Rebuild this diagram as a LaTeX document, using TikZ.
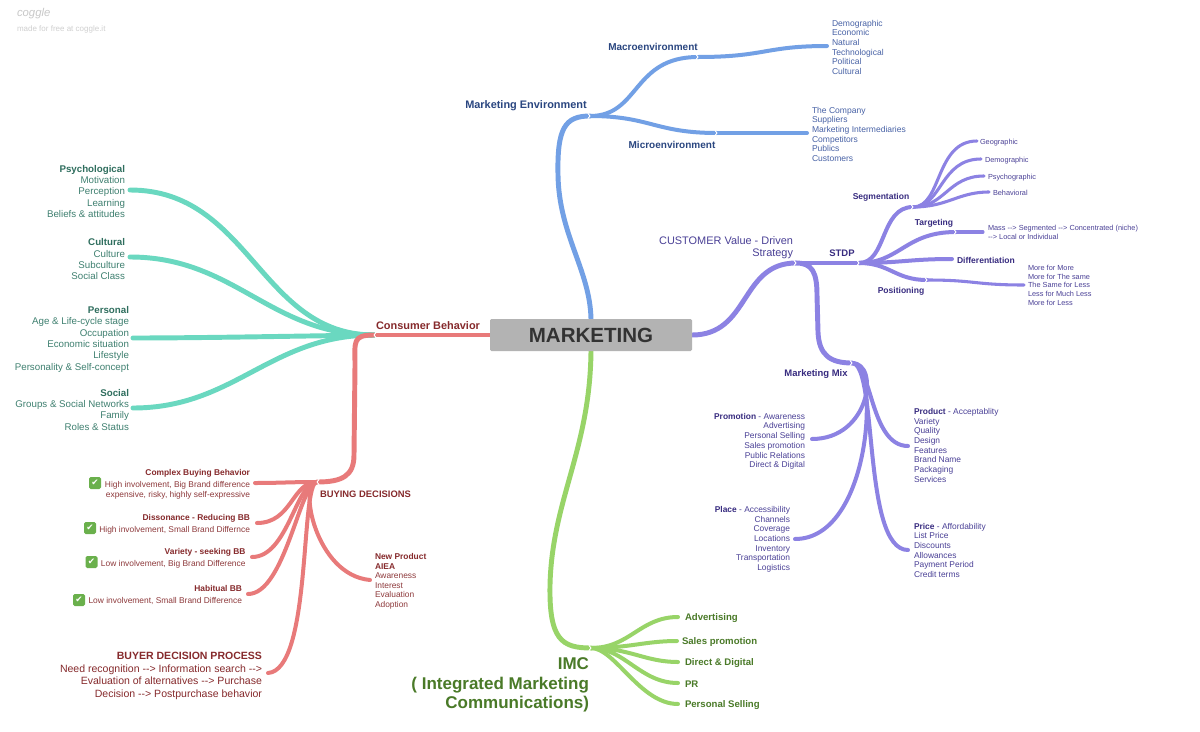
\documentclass[tikz,border=0pt]{standalone}
\usepackage{fontspec}
\setmainfont{Liberation Sans}
\newfontfamily\djv{DejaVu Sans}
\usetikzlibrary{calc}
\definecolor{bline}{HTML}{72A0E5}
\definecolor{btxt}{HTML}{2A4680}
\definecolor{blist}{HTML}{4862A6}
\definecolor{pline}{HTML}{8C82E3}
\definecolor{ptxt}{HTML}{382C80}
\definecolor{plist}{HTML}{4A4096}
\definecolor{tline}{HTML}{6AD8C0}
\definecolor{ttxt}{HTML}{2F6E5E}
\definecolor{tlist}{HTML}{3F8070}
\definecolor{rline}{HTML}{E87A7A}
\definecolor{rtxt}{HTML}{862A2C}
\definecolor{rlist}{HTML}{8E3A3C}
\definecolor{gline}{HTML}{98D468}
\definecolor{gtxt}{HTML}{4A7A28}
\definecolor{boxg}{HTML}{B3B3B3}
\definecolor{boxt}{HTML}{333333}
\definecolor{ckg}{HTML}{6AB04C}
\definecolor{wm}{HTML}{C8C8C8}
\newcommand\fz[2]{\fontsize{#1pt}{#2pt}\selectfont}
\pgfdeclarelayer{bg}
\pgfsetlayers{bg,main}
\begin{document}
\begin{tikzpicture}[x=0.75pt,y=-0.75pt,
  every node/.style={inner sep=0pt,outer sep=0pt},
  tx/.style={yshift=-1pt},
  con/.style={line cap=round,line join=round},
  w5/.style={con,line width=3.7pt},
  w4/.style={con,line width=3.0pt},
  w3/.style={con,line width=2.3pt},
  chev/.style={draw=white,line width=0.7pt,line cap=round,line join=round},
  blab/.style={tx,font=\fz{7.5}{8}\bfseries,text=btxt},
  blst/.style={tx,font=\fz{6.4}{7.3},text=blist,align=left,anchor=west},
  plab/.style={tx,font=\fz{6.4}{7}\bfseries,text=ptxt},
  psml/.style={tx,font=\fz{5.5}{6.4},text=plist,align=left,anchor=west},
  pmixl/.style={tx,font=\fz{6.3}{7.3},text=plist,align=left,anchor=west},
  pmixr/.style={tx,font=\fz{6.3}{7.3},text=plist,align=right,anchor=east},
  tblk/.style={tx,font=\fz{7.3}{8.5},text=tlist,align=right,anchor=east},
  rblk/.style={tx,font=\fz{6.3}{7.5},text=rlist,align=right,anchor=east},
  glab/.style={tx,font=\fz{7.2}{8}\bfseries,text=gtxt,anchor=west},
  chk/.style={fill=ckg,rounded corners=1.2pt,minimum size=9pt,text=white,font=\djv\fz{6.5}{6.5}\bfseries}
]
\useasboundingbox (0,0) rectangle (1200,732);

% watermark
\node[font=\fz{8.5}{8.5}\itshape,text=wm,anchor=west] (wm1) at (17,14) {coggle};
\node[font=\fz{6}{6},text=wm!85,anchor=west] (wm2) at (17,29) {made for free at coggle.it};

% centre
\node[fill=boxg,rounded corners=1pt,minimum width=151.5pt,minimum height=24pt,
      font=\fz{15.4}{16}\bfseries,text=boxt] (mk) at (591,335) {MARKETING};

% ---------- blue ----------
\coordinate (me) at (590,116);
\coordinate (mac) at (698,57);
\coordinate (macE) at (827,46);
\coordinate (mic) at (717,133);
\coordinate (micE) at (807,133);
\node[tx,font=\fz{8.2}{9}\bfseries,text=btxt] (meL) at (526,104) {Marketing Environment};
\node[blab] (macL) at (653,46) {Macroenvironment};
\node[blab] (micL) at (672,144) {Microenvironment};
\node[blst] (macT) at (832,46) {Demographic\\Economic\\Natural\\Technological\\Political\\Cultural};
\node[blst] (micT) at (812,133) {The Company\\Suppliers\\Marketing Intermediaries\\Competitors\\Publics\\Customers};

% ---------- purple ----------
\coordinate (cv) at (796,263);
\coordinate (stdp) at (859,263);
\coordinate (seg) at (913,207);
\coordinate (geo) at (977,141);
\coordinate (dem) at (981,159);
\coordinate (psy) at (984,176);
\coordinate (beh) at (989,192);
\coordinate (tar) at (956,232);
\coordinate (tarE) at (983,232);
\coordinate (dif) at (952,259);
\coordinate (pos) at (927,280);
\coordinate (posE) at (1024,285);
\coordinate (mix) at (852,363);
\coordinate (prod) at (908,446);
\coordinate (promo) at (812,439);
\coordinate (place) at (795,539);
\coordinate (price) at (908,550);
\node[tx,font=\fz{8.2}{9},text=plist,align=right,anchor=east] (cvL) at (793,246) {CUSTOMER Value - Driven\\Strategy};
\node[tx,font=\fz{7.1}{8}\bfseries,text=ptxt] (stdpL) at (842,252) {STDP};
\node[plab] (segL) at (881,196) {Segmentation};
\node[plab] (tarL) at (934,222) {Targeting};
\node[plab,anchor=west] (difL) at (957,259) {Differentiation};
\node[plab] (posL) at (901,290) {Positioning};
\node[psml] (geoL) at (980,141) {Geographic};
\node[psml] (demL) at (985,159) {Demographic};
\node[psml] (psyL) at (988,176) {Psychographic};
\node[psml] (behL) at (993,192) {Behavioral};
\node[tx,font=\fz{5.5}{6.75},text=plist,align=left,anchor=west] (tarT) at (988,231.5) {Mass -{}-> Segmented -{}-> Concentrated (niche)\\-{}-> Local or Individual};
\node[psml] (posT) at (1028,284) {More for More\\More for The same\\The Same for Less\\Less for Much Less\\More for Less};
\node[tx,font=\fz{7.1}{8}\bfseries,text=ptxt] (mixL) at (816,373) {Marketing Mix};
\node[pmixr] (promT) at (805,440) {{\bfseries\color{ptxt}Promotion} - Awareness\\Advertising\\Personal Selling\\Sales promotion\\Public Relations\\Direct \& Digital};
\node[pmixl] (prodT) at (914,444) {{\bfseries\color{ptxt}Product} - Acceptablity\\Variety\\Quality\\Design\\Features\\Brand Name\\Packaging\\Services};
\node[pmixr] (placT) at (790,538) {{\bfseries\color{ptxt}Place} - Accessibility\\Channels\\Coverage\\Locations\\Inventory\\Transportation\\Logistics};
\node[pmixl] (pricT) at (914,549) {{\bfseries\color{ptxt}Price} - Affordability\\List Price\\Discounts\\Allowances\\Payment Period\\Credit terms};

% ---------- teal ----------
\coordinate (cb) at (374,335);
\coordinate (psyc) at (130,190);
\coordinate (cult) at (130,257);
\coordinate (pers) at (133,338);
\coordinate (soc) at (133,408);
\node[tblk] (psT) at (125,190) {{\bfseries\color{ttxt}Psychological}\\Motivation\\Perception\\Learning\\Beliefs \& attitudes};
\node[tblk] (cuT) at (125,258) {{\bfseries\color{ttxt}Cultural}\\Culture\\Subculture\\Social Class};
\node[tblk] (peT) at (129,338) {{\bfseries\color{ttxt}Personal}\\Age \& Life-cycle stage\\Occupation\\Economic situation\\Lifestyle\\Personality \& Self-concept};
\node[tblk] (soT) at (129,408.5) {{\bfseries\color{ttxt}Social}\\Groups \& Social Networks\\Family\\Roles \& Status};

% ---------- red ----------
\coordinate (bd) at (317,482);
\coordinate (cplx) at (255,483);
\coordinate (diss) at (257,523);
\coordinate (vari) at (252,557);
\coordinate (habi) at (248,594);
\coordinate (newp) at (370,580);
\coordinate (bdp) at (268,673);
\node[tx,font=\fz{8.2}{9}\bfseries,text=rtxt] (cbL) at (428,324) {Consumer Behavior};
\node[tx,font=\fz{7.05}{8}\bfseries,text=rtxt,anchor=west] (bdL) at (320,493) {BUYING DECISIONS};
\node[rblk] (cplxT) at (250,483) {{\bfseries\color{rtxt}Complex Buying Behavior}\\[1.5pt]High involvement, Big Brand difference\\expensive, risky, highly self-expressive};
\node[rblk] (dissT) at (250,523) {{\bfseries\color{rtxt}Dissonance - Reducing BB}\\[1.5pt]High involvement, Small Brand Differnce};
\node[rblk] (variT) at (245.5,557) {{\bfseries\color{rtxt}Variety - seeking BB}\\[1.5pt]Low involvement, Big Brand Difference};
\node[rblk] (habiT) at (242,594) {{\bfseries\color{rtxt}Habitual BB}\\[1.5pt]Low involvement, Small Brand Difference};
\node[chk] (ck1) at (95,483) {✔};
\node[chk] (ck2) at (90,528) {✔};
\node[chk] (ck3) at (91.5,562) {✔};
\node[chk] (ck4) at (79,600) {✔};
\node[tx,font=\fz{6.3}{7.2},text=rlist,align=left,anchor=west] (npT) at (375,580) {{\bfseries\color{rtxt}New Product}\\{\bfseries\color{rtxt}AIEA}\\Awareness\\Interest\\Evaluation\\Adoption};
\node[tx,font=\fz{7.9}{9.4},text=rtxt,align=right,anchor=east] (bdpT) at (262,674.5) {{\bfseries BUYER DECISION PROCESS}\\Need recognition -{}-> Information search -{}->\\Evaluation of alternatives -{}-> Purchase\\Decision -{}-> Postpurchase behavior};

% ---------- green ----------
\coordinate (imc) at (591,648);
\coordinate (adv) at (678,617);
\coordinate (sp) at (677,641);
\coordinate (dd) at (678,662);
\coordinate (pr) at (678,683);
\coordinate (ps) at (678,704);
\node[glab] (advL) at (685,617) {Advertising};
\node[glab] (spL) at (682,641) {Sales promotion};
\node[glab] (ddL) at (685,662) {Direct \& Digital};
\node[glab] (prL) at (685,683) {PR};
\node[glab] (psL) at (685,704) {Personal Selling};
\node[tx,font=\fz{12.75}{14.6}\bfseries,text=gtxt,align=right,anchor=east] (imcT) at (589,683.5) {IMC\\( Integrated Marketing\\Communications)};

\begin{pgfonlayer}{bg}
\fill[white] (0,0) rectangle (1200,732);
% blue
\draw[w5,bline] (mk.north) .. controls (590,270) and (559,235) .. (558,175) .. controls (557,128) and (565,116) .. (me);
\draw[w4,bline] (me) .. controls (640,116) and (632,57) .. (mac);
\draw[w4,bline] (mac) .. controls (765,57) and (765,46) .. (macE);
\draw[w4,bline] (me) .. controls (650,116) and (655,133) .. (mic);
\draw[w4,bline] (mic) -- (micE);
% purple
\draw[w5,pline] (mk.east) .. controls (750,335) and (740,263) .. (cv);
\draw[w4,pline] (cv) -- (stdp);
\draw[w4,pline] (stdp) .. controls (887,263) and (880,207) .. (seg);
\draw[w3,pline] (seg) .. controls (942,207) and (935,141) .. (geo);
\draw[w3,pline] (seg) .. controls (942,207) and (940,159) .. (dem);
\draw[w3,pline] (seg) .. controls (945,207) and (948,176) .. (psy);
\draw[w3,pline] (seg) .. controls (948,207) and (958,192) .. (beh);
\draw[w4,pline] (stdp) .. controls (900,263) and (905,232) .. (tar);
\draw[w3,pline] (tar) -- (tarE);
\draw[w4,pline] (stdp) .. controls (900,263) and (910,259) .. (dif);
\draw[w4,pline] (stdp) .. controls (890,263) and (895,280) .. (pos);
\draw[w3,pline] (pos) .. controls (975,280) and (975,285) .. (posE);
\draw[w5,pline] (cv) .. controls (812,263) and (817,272) .. (817,295) -- (818,332) .. controls (819,355) and (830,363) .. (mix);
\draw[w4,pline] (mix) .. controls (872,363) and (870,446) .. (prod);
\draw[w4,pline] (mix) .. controls (878,363) and (862,550) .. (price);
\draw[w4,pline] (mix) .. controls (880,363) and (870,439) .. (promo);
\draw[w4,pline] (mix) .. controls (880,363) and (872,539) .. (place);
% teal
\draw[w5,tline] (cb) .. controls (260,335) and (250,190) .. (psyc);
\draw[w5,tline] (cb) .. controls (270,335) and (235,257) .. (cult);
\draw[w5,tline] (cb) .. controls (300,336) and (200,338) .. (pers);
\draw[w5,tline] (cb) .. controls (270,335) and (235,408) .. (soc);
% red
\draw[w5,rline] (mk.west) -- (cb);
\draw[w5,rline] (cb) .. controls (352,335) and (355,342) .. (355,365) -- (354,455) .. controls (354,476) and (342,482) .. (bd);
\draw[w4,rline] (bd) .. controls (290,482) and (280,483) .. (cplx);
\draw[w4,rline] (bd) .. controls (292,482) and (292,523) .. (diss);
\draw[w4,rline] (bd) .. controls (296,482) and (288,557) .. (vari);
\draw[w4,rline] (bd) .. controls (300,482) and (285,594) .. (habi);
\draw[w4,rline] (bd) .. controls (298,482) and (315,575) .. (newp);
\draw[w4,rline] (bd) .. controls (300,482) and (312,670) .. (bdp);
% green
\draw[w5,gline] (mk.south) .. controls (590,450) and (552,500) .. (550,585) .. controls (549,640) and (562,648) .. (imc);
\draw[w4,gline] (imc) .. controls (630,648) and (640,617) .. (adv);
\draw[w4,gline] (imc) .. controls (630,648) and (645,641) .. (sp);
\draw[w4,gline] (imc) .. controls (630,648) and (645,662) .. (dd);
\draw[w4,gline] (imc) .. controls (625,648) and (640,683) .. (pr);
\draw[w4,gline] (imc) .. controls (615,648) and (640,704) .. (ps);
% junction notches
\foreach \c in {me,mac,mic,cv,stdp,seg,tar,pos,mix,imc}
  \draw[chev] ($(\c)+(-2,-2.5)$) -- (\c) -- ($(\c)+(-2,2.5)$);
\foreach \c in {cb,bd}
  \draw[chev] ($(\c)+(2,-2.5)$) -- (\c) -- ($(\c)+(2,2.5)$);
\end{pgfonlayer}
\end{tikzpicture}
\end{document}
